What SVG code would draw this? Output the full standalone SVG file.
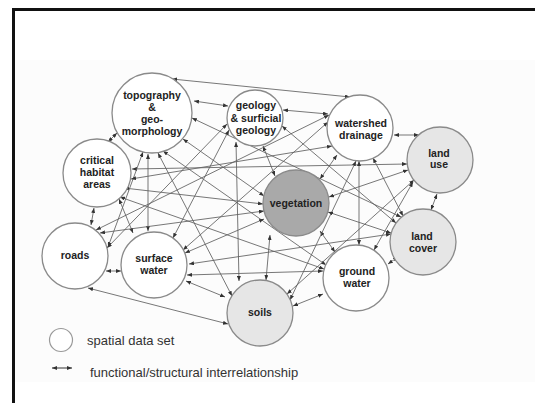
<svg xmlns="http://www.w3.org/2000/svg" width="535" height="403" viewBox="0 0 535 403">
<defs>
<marker id="ah" markerUnits="userSpaceOnUse" markerWidth="5" markerHeight="4" refX="5" refY="2" orient="auto-start-reverse">
<path d="M0,0 L5,2 L0,4 z" fill="#333"/>
</marker>
</defs>
<style>
.n{stroke:#8a8a8a;stroke-width:1.3;fill:#fff}
.lg{fill:#e6e6e6}
.dk{fill:#a9a9a9}
.lb{font-family:"Liberation Sans",Arial,sans-serif;font-weight:bold;font-size:10.5px;fill:#222;text-anchor:middle}
.lt{font-family:"Liberation Sans",Arial,sans-serif;font-size:13px;fill:#333}
#edges line{stroke:#5e5e5e;stroke-width:0.85;marker-start:url(#ah);marker-end:url(#ah)}
</style>
<rect x="0" y="0" width="535" height="403" fill="#fff"/>
<rect x="15" y="60" width="520" height="322" fill="#fcfcfc"/>
<path d="M13.5,403 V9.5 H535" fill="none" stroke="#111" stroke-width="3"/>

<g id="edges">
<line x1="172" y1="79" x2="350" y2="97"/>
<line x1="194" y1="101" x2="228" y2="106"/>
<line x1="283" y1="110" x2="328" y2="114"/>
<line x1="394" y1="135" x2="419" y2="135"/>
<line x1="117" y1="133" x2="108" y2="142"/>
<line x1="94" y1="208" x2="91" y2="225"/>
<line x1="106" y1="271" x2="121" y2="271"/>
<line x1="88" y1="288" x2="228" y2="324"/>
<line x1="186" y1="281" x2="225" y2="297"/>
<line x1="293" y1="306" x2="323" y2="294"/>
<line x1="388" y1="264" x2="398" y2="257"/>
<line x1="437" y1="194" x2="431" y2="210"/>
<line x1="132" y1="169" x2="407" y2="164"/>
<line x1="187" y1="275" x2="323" y2="271"/>
<line x1="189" y1="264" x2="391" y2="234"/>
<line x1="148" y1="154" x2="148" y2="231"/>
<line x1="359" y1="161" x2="359" y2="245"/>
<line x1="236" y1="142" x2="239" y2="281"/>
<line x1="270" y1="235" x2="266" y2="280"/>
<line x1="320" y1="231" x2="335" y2="252"/>
<line x1="263" y1="146" x2="275" y2="176"/>
<line x1="337" y1="155" x2="320" y2="179"/>
<line x1="329" y1="197" x2="408" y2="170"/>
<line x1="124" y1="188" x2="263" y2="204"/>
<line x1="119" y1="199" x2="133" y2="233"/>
<line x1="373" y1="158" x2="403" y2="216"/>
<line x1="413" y1="182" x2="374" y2="250"/>
<line x1="183" y1="139" x2="264" y2="196"/>
<line x1="192" y1="118" x2="401" y2="217"/>
<line x1="158" y1="153" x2="232" y2="296"/>
<line x1="163" y1="151" x2="326" y2="265"/>
<line x1="143" y1="152" x2="108" y2="247"/>
<line x1="227" y1="124" x2="107" y2="248"/>
<line x1="229" y1="130" x2="173" y2="238"/>
<line x1="329" y1="115" x2="96" y2="230"/>
<line x1="328" y1="122" x2="183" y2="250"/>
<line x1="332" y1="146" x2="131" y2="179"/>
<line x1="282" y1="126" x2="396" y2="223"/>
<line x1="100" y1="233" x2="264" y2="211"/>
<line x1="287" y1="294" x2="414" y2="180"/>
<line x1="290" y1="300" x2="356" y2="161"/>
<line x1="120" y1="197" x2="324" y2="269"/>
<line x1="328" y1="212" x2="391" y2="233"/>
<line x1="185" y1="253" x2="264" y2="219"/>
</g>

<g id="topography">
<circle class="n" cx="152" cy="113" r="40"/>
<text class="lb" x="152" y="99">topography</text>
<text class="lb" x="152" y="111">&amp;</text>
<text class="lb" x="152" y="123">geo-</text>
<text class="lb" x="152" y="135">morphology</text>
</g>
<g id="geology">
<circle class="n" cx="255" cy="118" r="28"/>
<text class="lb" x="256" y="109">geology</text>
<text class="lb" x="256" y="122">&amp; surficial</text>
<text class="lb" x="256" y="134">geology</text>
</g>
<g id="watershed">
<circle class="n" cx="360" cy="128" r="33"/>
<text class="lb" x="361" y="127">watershed</text>
<text class="lb" x="361" y="139">drainage</text>
</g>
<g id="landuse">
<circle class="n lg" cx="440" cy="160" r="33"/>
<text class="lb" x="439" y="157">land</text>
<text class="lb" x="439" y="168">use</text>
</g>
<g id="critical">
<circle class="n" cx="97" cy="173" r="34"/>
<text class="lb" x="97" y="164">critical</text>
<text class="lb" x="97" y="176">habitat</text>
<text class="lb" x="97" y="188">areas</text>
</g>
<g id="vegetation">
<circle class="n dk" cx="296" cy="203" r="33"/>
<text class="lb" x="296" y="207">vegetation</text>
</g>
<g id="landcover">
<circle class="n lg" cx="423" cy="242" r="33"/>
<text class="lb" x="422" y="240">land</text>
<text class="lb" x="423" y="252">cover</text>
</g>
<g id="roads">
<circle class="n" cx="75" cy="256" r="33"/>
<text class="lb" x="75" y="259">roads</text>
</g>
<g id="surfacewater">
<circle class="n" cx="154" cy="265" r="33"/>
<text class="lb" x="154" y="262">surface</text>
<text class="lb" x="154" y="274">water</text>
</g>
<g id="groundwater">
<circle class="n" cx="356" cy="278" r="33"/>
<text class="lb" x="357" y="275">ground</text>
<text class="lb" x="357" y="287">water</text>
</g>
<g id="soils">
<circle class="n lg" cx="260" cy="313" r="33"/>
<text class="lb" x="260" y="316">soils</text>
</g>

<g id="legend">
<circle cx="61" cy="340" r="11.5" fill="#fff" stroke="#999" stroke-width="1.2"/>
<text class="lt" x="87" y="345">spatial data set</text>
<line x1="52" y1="368" x2="72" y2="368" stroke="#333" stroke-width="1" marker-start="url(#ah)" marker-end="url(#ah)"/>
<text class="lt" x="90" y="377">functional/structural interrelationship</text>
</g>
</svg>
